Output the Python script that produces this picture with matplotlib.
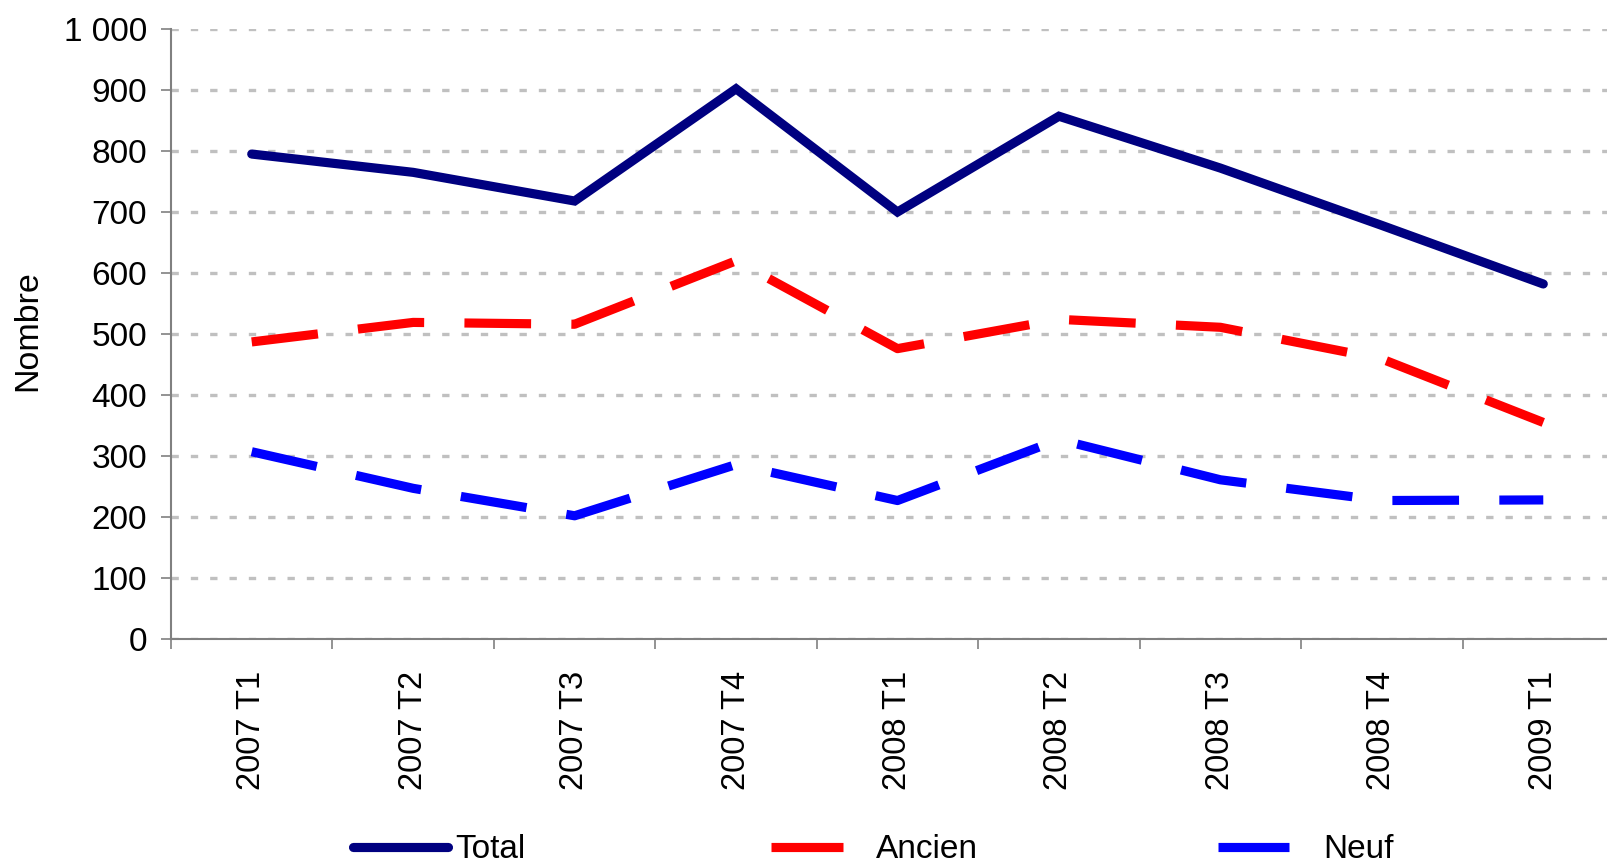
import matplotlib
matplotlib.use("Agg")
import matplotlib.pyplot as plt
from matplotlib.lines import Line2D

plt.rcParams['font.family'] = ['Liberation Sans', 'DejaVu Sans']

categories = ["2007 T1", "2007 T2", "2007 T3", "2007 T4", "2008 T1",
              "2008 T2", "2008 T3", "2008 T4", "2009 T1"]
total = [795, 765, 718, 902, 700, 857, 772, 678, 582]
ancien = [487, 519, 516, 620, 476, 524, 511, 459, 355]
neuf = [307, 247, 202, 286, 227, 327, 261, 227, 228]
yticks = [0, 100, 200, 300, 400, 500, 600, 700, 800, 900, 1000]
ytick_labels = ["0", "100", "200", "300", "400", "500", "600", "700", "800", "900", "1 000"]

W, H = 1608, 865
fig = plt.figure(figsize=(W / 100, H / 100), dpi=100)
ax = fig.add_axes([171 / W, 1 - 639 / H, 1453 / W, 610 / H])

x = list(range(len(categories)))
LW = 6.6
dash = (0, (48 / LW, 29 / LW))
ax.plot(x, total, color="#000080", lw=LW, solid_capstyle="round", solid_joinstyle="miter", zorder=3)
ax.plot(x, ancien, color="#FF0000", lw=LW, linestyle=dash, dash_capstyle="butt", zorder=3)
ax.plot(x, neuf, color="#0000FF", lw=LW, linestyle=dash, dash_capstyle="butt", zorder=3)

ax.set_xlim(-0.5, len(categories) - 0.5)
ax.set_ylim(0, 1000)

ax.set_yticks(yticks)
ax.set_yticklabels(ytick_labels, fontsize=24)
ax.tick_params(axis="y", direction="out", length=7.2, width=1.2, color="#808080", pad=10)

ax.set_xticks([i - 0.5 for i in range(len(categories) + 1)])
ax.set_xticklabels([])
ax.set_xticks(x, minor=True)
ax.set_xticklabels(categories, minor=True, rotation=90, fontsize=23.5)
ax.tick_params(axis="x", which="major", direction="out", length=7.5, width=1.2, color="#808080")
ax.tick_params(axis="x", which="minor", length=0, pad=23)

for s in ["top", "right"]:
    ax.spines[s].set_visible(False)
for s in ["left", "bottom"]:
    ax.spines[s].set_color("#808080")
    ax.spines[s].set_linewidth(1.5)

ax.yaxis.grid(True, color="#C0C0C0", lw=2.4, linestyle=(0, (2.2, 3.6)))
ax.set_axisbelow(True)

fig.text(28 / W, 1 - 331 / H, "Nombre", rotation=90, ha="center", va="center", fontsize=24.5)

specs = [
    ("Total", "#000080", "round", 353, 2.85, 0.22),
    ("Ancien", "#FF0000", "butt", 771, 2.15, 1.0),
    ("Neuf", "#0000FF", "butt", 1218, 2.12, 1.03),
]
for label, col, cap, x0, hl, tp in specs:
    h = Line2D([], [], color=col, lw=LW, solid_capstyle=cap)
    leg = fig.legend(handles=[h], labels=[label], loc="center left",
                     bbox_to_anchor=(x0 / W, 1 - 850 / H), frameon=False,
                     fontsize=24, handlelength=hl, handletextpad=tp,
                     borderpad=0, borderaxespad=0)

fig.savefig("out.png", dpi=100)
